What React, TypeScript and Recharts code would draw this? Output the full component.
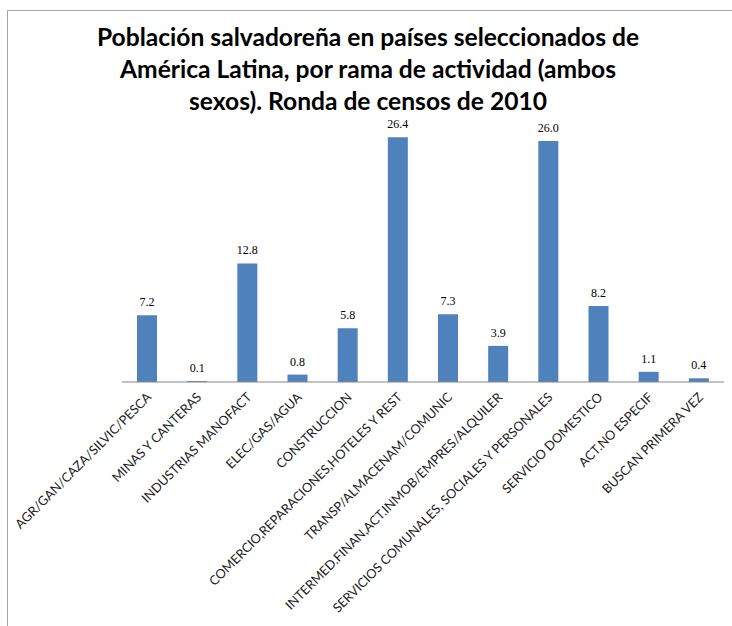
import { BarChart, Bar, XAxis, YAxis, LabelList } from "recharts";

const categories = [
  "AGR/GAN/CAZA/SILVIC/PESCA",
  "MINAS Y CANTERAS",
  "INDUSTRIAS MANOFACT",
  "ELEC/GAS/AGUA",
  "CONSTRUCCION",
  "COMERCIO,REPARACIONES,HOTELES Y REST",
  "TRANSP/ALMACENAM/COMUNIC",
  "INTERMED.FINAN,ACT.INMOB/EMPRES/ALQUILER",
  "SERVICIOS COMUNALES, SOCIALES Y PERSONALES",
  "SERVICIO DOMESTICO",
  "ACT.NO ESPECIF",
  "BUSCAN PRIMERA VEZ",
];

const values = [7.2, 0.1, 12.8, 0.8, 5.8, 26.4, 7.3, 3.9, 26.0, 8.2, 1.1, 0.4];

const titleLines = [
  "Población salvadoreña en países seleccionados de",
  "América Latina, por rama de actividad (ambos",
  "sexos). Ronda de censos de 2010",
];

const data = categories.map((name, i) => ({ name, value: values[i] }));

function RotatedTick(props: any) {
  const { x, y, payload } = props;
  const tx = x + 5;
  const ty = y + 8;
  return (
    <text
      x={tx}
      y={ty}
      transform={`rotate(-45, ${tx}, ${ty})`}
      textAnchor="end"
      fontSize={12.8}
      fontFamily="Lato, 'Open Sans', sans-serif"
      fill="#222"
    >
      {payload.value}
    </text>
  );
}

export default function App() {
  return (
    <div
      style={{
        position: "absolute",
        left: 0,
        top: 0,
        width: 732,
        height: 626,
        background: "#fff",
        overflow: "hidden",
      }}
    >
      <div
        style={{
          position: "absolute",
          left: 7,
          top: 10,
          width: 740,
          height: 640,
          border: "1px solid #a6a6a6",
        }}
      />
      <div
        style={{
          position: "absolute",
          left: 0,
          top: 21,
          width: 736,
          textAlign: "center",
          fontFamily: "Lato, 'Open Sans', sans-serif",
          fontWeight: "bold",
          fontSize: 24.6,
          lineHeight: "32px",
          color: "#000",
        }}
      >
        {titleLines.map((t) => (
          <div key={t}>{t}</div>
        ))}
      </div>
      <BarChart
        width={732}
        height={626}
        data={data}
        margin={{ top: 104, right: 8, bottom: 0, left: 122 }}
        style={{ position: "absolute", left: 0, top: 0 }}
      >
        <XAxis
          dataKey="name"
          interval={0}
          tickLine={false}
          axisLine={{ stroke: "#868686" }}
          tick={<RotatedTick />}
          height={244}
        />
        <YAxis hide domain={[0, 30]} />
        <Bar dataKey="value" fill="#4F81BD" barSize={20} isAnimationActive={false}>
          <LabelList
            dataKey="value"
            position="top"
            offset={9}
            formatter={(v: any) => Number(v).toFixed(1)}
            style={{ fontFamily: "'Liberation Serif', serif", fontSize: 12, fill: "#000" }}
          />
        </Bar>
      </BarChart>
    </div>
  );
}
